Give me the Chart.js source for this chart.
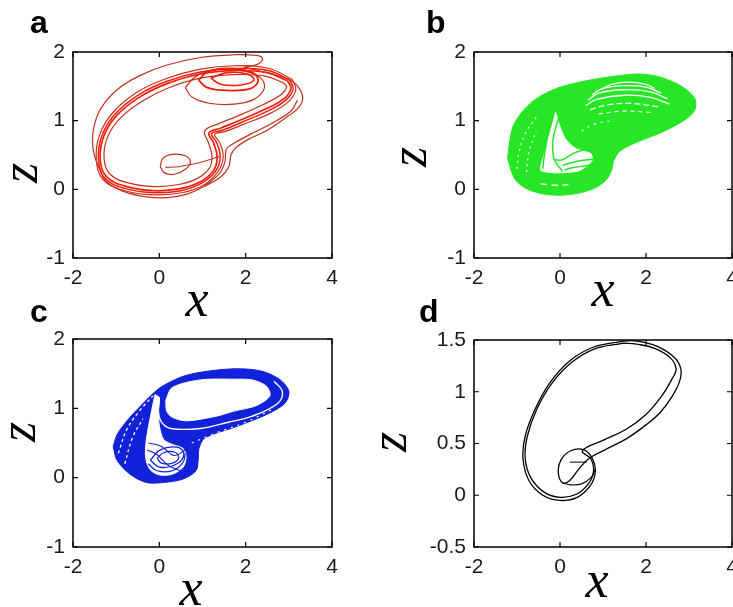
<!DOCTYPE html>
<html>
<head>
<meta charset="utf-8">
<script src="https://cdn.jsdelivr.net/npm/chart.js@4.4.1/dist/chart.umd.min.js"></script>
<style>
html,body{margin:0;padding:0;background:#fff;overflow:hidden;width:733px;height:607px;}
canvas{position:absolute;left:0;top:0;}
</style>
</head>
<body>
<canvas id="ca" width="733" height="607"></canvas>
<canvas id="cb" width="733" height="607"></canvas>
<canvas id="cc" width="733" height="607"></canvas>
<canvas id="cd" width="733" height="607"></canvas>
<script>
// ---------- axis ticks / labels ----------
const xTickValues = [-2, 0, 2, 4];
const xTickLabels = ['-2', '0', '2', '4'];
const zTickValuesABC = [-1, 0, 1, 2];
const zTickLabelsABC = ['-1', '0', '1', '2'];
const zTickValuesD = [-0.5, 0, 0.5, 1, 1.5];
const zTickLabelsD = ['-0.5', '0', '0.5', '1', '1.5'];
const panelLetters = ['a', 'b', 'c', 'd'];
const xTitle = 'x';
const zTitle = 'z';

// ---------- panel a (x, z) traced curves ----------
const aOuterLoop = [[1.96,1.78],[2.27,1.82],[2.39,1.90],[2.25,1.95],[1.73,1.96],[0.95,1.92],[0.18,1.81],[-0.44,1.66],[-0.98,1.45],[-1.37,1.16],[-1.53,0.86],[-1.53,0.57],[-1.41,0.33],[-1.22,0.11],[-0.83,-0.03],[-0.29,-0.11],[0.18,-0.12],[0.64,-0.07],[1.03,0.04],[1.42,0.18],[1.61,0.33],[1.66,0.50],[1.76,0.60],[2.04,0.72],[2.50,0.86],[2.97,1.06],[3.24,1.20],[3.32,1.35],[3.18,1.52],[2.97,1.61],[2.66,1.67],[2.35,1.72],[1.96,1.78]];
const aBand1 = [[3.08,1.60],[2.55,1.76],[1.73,1.80],[0.95,1.75],[0.15,1.61],[-0.50,1.42],[-1.06,1.13],[-1.38,0.80],[-1.46,0.43],[-1.30,0.14],[-0.80,-0.02],[-0.13,-0.08],[0.52,-0.05],[1.02,0.06],[1.36,0.26],[1.48,0.47],[1.40,0.68],[1.28,0.80],[1.52,0.84],[1.96,0.95],[2.58,1.11],[2.98,1.27],[3.16,1.45],[3.08,1.60]];
const aBand2 = [[2.97,1.58],[2.50,1.70],[1.73,1.73],[0.95,1.68],[0.18,1.54],[-0.44,1.35],[-0.98,1.08],[-1.29,0.77],[-1.37,0.43],[-1.22,0.18],[-0.75,0.04],[-0.13,-0.02],[0.49,0.01],[0.95,0.11],[1.26,0.28],[1.34,0.47],[1.26,0.67],[1.15,0.82],[1.42,0.89],[1.88,1.01],[2.50,1.18],[2.89,1.32],[3.05,1.47],[2.97,1.58]];
const aBand3 = [[2.88,1.55],[2.45,1.65],[1.73,1.67],[0.95,1.62],[0.22,1.48],[-0.38,1.29],[-0.90,1.04],[-1.20,0.76],[-1.28,0.45],[-1.14,0.22],[-0.70,0.09],[-0.13,0.04],[0.45,0.07],[0.88,0.16],[1.16,0.31],[1.22,0.48],[1.15,0.66],[1.05,0.85],[1.35,0.95],[1.82,1.07],[2.42,1.24],[2.80,1.37],[2.95,1.49],[2.88,1.55]];
const aBand4 = [[3.02,1.59],[2.52,1.73],[1.73,1.76],[0.95,1.71],[0.16,1.57],[-0.47,1.38],[-1.02,1.10],[-1.33,0.78],[-1.41,0.43],[-1.26,0.16],[-0.78,0.01],[-0.13,-0.05],[0.50,-0.02],[0.98,0.09],[1.31,0.27],[1.41,0.47],[1.33,0.68],[1.21,0.81],[1.47,0.86],[1.92,0.98],[2.54,1.15],[2.93,1.30],[3.10,1.46],[3.02,1.59]];
const aKnotLine = [[1.05,0.05],[1.38,0.22],[1.52,0.40],[1.55,0.58],[1.70,0.66],[2.10,0.80],[2.60,0.96],[3.05,1.14],[3.20,1.30]];
const aSpiral1 = [[0.60,1.48],[0.76,1.34],[1.19,1.25],[1.73,1.24],[2.19,1.31],[2.43,1.47],[2.35,1.62],[2.04,1.71],[1.42,1.75],[0.88,1.66],[0.60,1.48]];
const aSpiral2 = [[0.91,1.59],[1.11,1.48],[1.57,1.44],[2.12,1.47],[2.29,1.59],[2.12,1.71],[1.57,1.76],[1.11,1.71],[0.91,1.59]];
const aSpiral3 = [[1.19,1.62],[1.42,1.53],[1.88,1.52],[2.19,1.59],[2.04,1.68],[1.57,1.70],[1.19,1.62]];
const aSmallLoop = [[0.02,0.33],[0.12,0.24],[0.35,0.22],[0.62,0.30],[0.72,0.40],[0.60,0.49],[0.30,0.51],[0.08,0.45],[0.02,0.33]];
const aSmallTail = [[0.14,0.32],[0.45,0.33],[0.80,0.37],[1.10,0.42],[1.38,0.48]];

// ---------- panel b ----------
const bBlobOutline = [[-1.22,0.45],[-1.18,0.65],[-1.09,0.92],[-0.85,1.15],[-0.55,1.32],[-0.08,1.47],[0.60,1.58],[1.30,1.65],[1.85,1.68],[2.30,1.64],[2.71,1.54],[3.00,1.42],[3.15,1.30],[3.13,1.15],[2.90,1.01],[2.40,0.84],[1.80,0.69],[1.40,0.56],[1.25,0.42],[1.20,0.28],[1.08,0.14],[0.78,0.01],[0.30,-0.07],[-0.25,-0.08],[-0.75,0.00],[-1.05,0.15],[-1.22,0.45]];
const bTopGap1 = [[0.95,1.45],[1.20,1.53],[1.60,1.56],[2.00,1.53],[2.20,1.47]];
const bTopGap2 = [[0.75,1.38],[1.00,1.47],[1.50,1.51],[2.00,1.49],[2.35,1.40]];
const bTopGap3 = [[0.65,1.30],[0.90,1.40],[1.50,1.45],[2.10,1.42],[2.50,1.32]];
const bTopGap4 = [[0.60,1.22],[0.85,1.31],[1.50,1.37],[2.10,1.34],[2.55,1.24]];
const bTopGap5 = [[0.70,1.16],[1.10,1.23],[1.70,1.25],[2.30,1.20]];
const bTopGap6 = [[0.90,1.10],[1.50,1.14],[2.10,1.12]];
const bWedge = [[-0.10,1.12],[-0.22,0.85],[-0.35,0.55],[-0.45,0.28],[-0.10,0.24],[0.45,0.27],[0.75,0.42],[0.72,0.52],[0.35,0.60],[0.12,0.74],[-0.02,0.95],[-0.10,1.12]];
const bWedgeLine1 = [[-0.02,1.06],[-0.12,0.85],[-0.17,0.67],[-0.13,0.43],[0.06,0.26]];
const bWedgeLine2 = [[-0.29,0.81],[-0.33,0.62],[-0.37,0.47],[-0.40,0.30]];
const bWedgeLine3 = [[-0.13,0.43],[0.06,0.43],[0.30,0.52],[0.68,0.60]];
const bWedgeLine4 = [[0.06,0.35],[0.22,0.38],[0.50,0.42],[0.84,0.44]];
const bWedgeLine5 = [[0.10,0.28],[0.26,0.31],[0.55,0.34],[0.84,0.36]];
const bLeftGap1 = [[-1.00,0.30],[-0.95,0.55],[-0.80,0.82],[-0.55,1.05]];
const bLeftGap2 = [[-0.78,0.25],[-0.72,0.55],[-0.55,0.85]];
const bBottomGap = [[-0.45,0.08],[-0.10,0.06],[0.25,0.07]];
const bMidGap = [[0.50,0.85],[0.80,0.95],[1.20,1.00]];

// ---------- panel c ----------
const cBandOutline = [[-1.07,0.45],[-0.98,0.62],[-0.75,0.82],[-0.44,1.03],[0.00,1.29],[0.50,1.45],[0.95,1.52],[1.73,1.57],[2.35,1.54],[2.78,1.42],[3.00,1.25],[2.92,1.08],[2.55,0.93],[1.80,0.74],[1.05,0.57],[0.92,0.42],[0.90,0.25],[0.85,0.10],[0.55,-0.02],[0.10,-0.07],[-0.30,-0.07],[-0.68,0.05],[-0.98,0.25],[-1.07,0.45]];
const cHole = [[0.15,1.12],[0.30,1.30],[0.95,1.41],[1.73,1.42],[2.15,1.41],[2.48,1.32],[2.56,1.18],[2.25,1.04],[1.73,0.96],[1.34,0.89],[0.64,0.82],[0.30,0.87],[0.17,0.96],[0.15,1.12]];
const cRingGap = [[-0.02,1.17],[-0.02,0.95],[0.05,0.80],[0.26,0.71],[0.95,0.71],[1.60,0.80],[2.12,0.88],[2.74,1.07],[2.85,1.24],[2.66,1.39]];
const cGapV = [[-0.10,1.20],[-0.20,0.90],[-0.30,0.55],[-0.32,0.30],[-0.22,0.12],[0.00,0.04],[0.30,0.05],[0.55,0.15],[0.62,0.30],[0.55,0.42],[0.30,0.48],[0.10,0.55],[0.00,0.75],[-0.02,0.95],[0.00,1.15],[-0.10,1.20]];
const cSpiral1 = [[-0.21,0.25],[0.02,0.40],[0.41,0.44],[0.57,0.35],[0.41,0.20],[0.02,0.15],[-0.21,0.25]];
const cSpiral2 = [[-0.05,0.28],[0.10,0.36],[0.35,0.37],[0.45,0.29],[0.30,0.21],[0.05,0.21],[-0.05,0.28]];
const cSpiral3 = [[-0.26,0.20],[-0.05,0.10],[0.30,0.10],[0.55,0.22],[0.60,0.35]];
const cSpiralLink = [[-0.25,0.50],[0.05,0.45],[0.35,0.32],[0.60,0.40]];
const cSpiralLink2 = [[-0.28,0.40],[-0.05,0.33],[0.20,0.18],[0.50,0.10]];
const cLeftStripe1 = [[-0.95,0.35],[-0.75,0.70],[-0.45,0.97],[-0.15,1.18]];
const cLeftStripe2 = [[-0.80,0.20],[-0.62,0.58],[-0.38,0.85]];
const cLowerStripe = [[0.75,0.50],[1.30,0.64],[2.00,0.80],[2.60,0.98]];

// ---------- panel d ----------
const dStrandA = [[1.47,1.49],[0.77,1.43],[0.23,1.30],[-0.23,1.09],[-0.58,0.83],[-0.81,0.57],[-0.86,0.35],[-0.72,0.14],[-0.40,0.00],[0.00,-0.05],[0.40,-0.02],[0.70,0.09],[0.82,0.22],[0.76,0.35],[0.55,0.44],[0.25,0.43],[0.02,0.34],[-0.04,0.22],[0.06,0.12],[0.22,0.14],[0.45,0.26],[0.69,0.36],[1.10,0.45],[1.56,0.55],[2.00,0.68],[2.33,0.80],[2.60,0.95],[2.78,1.10],[2.81,1.22],[2.66,1.33],[2.25,1.44],[1.78,1.49],[1.47,1.49]];
const dStrandB = [[1.47,1.47],[0.78,1.41],[0.26,1.28],[-0.19,1.08],[-0.54,0.83],[-0.76,0.57],[-0.81,0.36],[-0.68,0.17],[-0.37,0.03],[0.00,-0.02],[0.38,0.01],[0.66,0.11],[0.78,0.23],[0.72,0.35],[0.52,0.43],[1.00,0.53],[1.55,0.64],[2.00,0.78],[2.35,0.95],[2.60,1.12],[2.70,1.22],[2.56,1.33],[2.20,1.42],[1.78,1.46],[1.47,1.47]];
const dCircleBottom = [[0.06,0.12],[0.25,0.10],[0.50,0.11],[0.72,0.17],[0.82,0.25]];
const dDash = [[0.23,0.32],[0.62,0.32]];

// ---------- helpers ----------
const toXY = pts => pts.map(p => ({x: p[0], y: p[1]}));
function lineDS(pts, color, width, extra) {
  return Object.assign({data: toXY(pts), borderColor: color, borderWidth: width, pointRadius: 0,
    fill: false, tension: 0.4}, extra || {});
}
function shapeDS(pts, color, tension) {
  return {data: toXY(pts), borderColor: color, backgroundColor: color, borderWidth: 1, pointRadius: 0,
    fill: 'shape', tension: tension === undefined ? 0.3 : tension};
}

const RED = '#c4301e', RED2 = '#f21e0a', GREEN = '#26e626', BLUE = '#1222d8', WHITE = '#ffffff', BLACK = '#000000';

const decorPlugin = {
  id: 'decor',
  afterDraw(chart, args, o) {
    const ctx = chart.ctx, a = chart.chartArea;
    const xs = chart.scales.x, ys = chart.scales.y;
    ctx.save();
    ctx.strokeStyle = '#000';
    ctx.lineWidth = 1.5;
    ctx.strokeRect(a.left, a.top, a.right - a.left, a.bottom - a.top);
    ctx.lineWidth = 1.2;
    ctx.beginPath();
    xTickValues.forEach(v => {
      const p = xs.getPixelForValue(v);
      ctx.moveTo(p, a.bottom); ctx.lineTo(p, a.bottom - 5);
      ctx.moveTo(p, a.top); ctx.lineTo(p, a.top + 5);
    });
    o.zVals.forEach(v => {
      const p = ys.getPixelForValue(v);
      ctx.moveTo(a.left, p); ctx.lineTo(a.left + 5, p);
      ctx.moveTo(a.right, p); ctx.lineTo(a.right - 5, p);
    });
    ctx.stroke();
    ctx.fillStyle = '#000';
    ctx.font = 'bold 32px "Liberation Sans", Arial, sans-serif';
    ctx.textAlign = 'left';
    ctx.textBaseline = 'alphabetic';
    ctx.fillText(o.letter, o.letterPos[0], o.letterPos[1]);
    ctx.font = 'italic 52px "Liberation Serif", "Times New Roman", serif';
    ctx.textAlign = 'center';
    ctx.fillText(xTitle, o.xPos[0], o.xPos[1]);
    ctx.translate(o.zPos[0], o.zPos[1]);
    ctx.rotate(-Math.PI / 2);
    ctx.fillText(zTitle, 0, 0);
    ctx.restore();
  }
};

const X_AXIS_H = 44;
function makeChart(p) {
  const n = p.datasets.length;
  p.datasets.forEach((d, i) => { d.order = n - i; });
  const tickFont = {family: '"Liberation Sans", Arial, sans-serif', size: 21};
  new Chart(document.getElementById(p.id), {
    type: 'line',
    data: {datasets: p.datasets},
    options: {
      responsive: false,
      animation: false,
      events: [],
      layout: {padding: {left: 0, top: p.pad.top, right: p.pad.right, bottom: p.pad.bottom - X_AXIS_H}, autoPadding: false},
      plugins: {legend: {display: false}, tooltip: {enabled: false},
        decor: {zVals: p.zVals, letter: p.letter, letterPos: p.letterPos, xPos: p.xPos, zPos: p.zPos}},
      scales: {
        x: {type: 'linear', min: -2, max: 4,
          afterBuildTicks: s => { s.ticks = xTickValues.map(v => ({value: v})); },
          afterFit: s => { s.height = X_AXIS_H; s.paddingLeft = 0; s.paddingRight = 0; },
          grid: {display: false, drawTicks: false}, border: {display: false},
          ticks: {autoSkip: false, maxRotation: 0, minRotation: 0, padding: 8, color: '#1a1a1a', font: tickFont,
            callback: v => xTickLabels[xTickValues.indexOf(v)]}},
        y: {type: 'linear', min: p.zMin, max: p.zMax,
          afterBuildTicks: s => { s.ticks = p.zVals.map(v => ({value: v})); },
          afterFit: s => { s.width = p.pad.left; s.paddingTop = 0; s.paddingBottom = 0; },
          grid: {display: false, drawTicks: false}, border: {display: false},
          ticks: {autoSkip: false, padding: 8, color: '#1a1a1a', font: tickFont,
            callback: v => p.zLabs[p.zVals.indexOf(v)]}}
      }
    },
    plugins: [decorPlugin]
  });
}

makeChart({
  id: 'ca', pad: {left: 73, top: 52, right: 401, bottom: 349},
  zVals: zTickValuesABC, zLabs: zTickLabelsABC, zMin: -1, zMax: 2,
  letter: panelLetters[0], letterPos: [30, 33], xPos: [197, 316], zPos: [37, 173],
  datasets: [
    lineDS(aOuterLoop, RED, 1.2),
    lineDS(aBand1, RED, 1.2),
    lineDS(aBand4, RED2, 1.5),
    lineDS(aBand2, RED2, 1.7),
    lineDS(aBand3, RED, 1.2),
    lineDS(aKnotLine, RED, 1.2),
    lineDS(aSpiral1, RED, 1.2),
    lineDS(aSpiral2, RED2, 1.8),
    lineDS(aSpiral3, RED2, 1.6),
    lineDS(aSmallLoop, RED, 1.2),
    lineDS(aSmallTail, RED, 1.1)
  ]
});

makeChart({
  id: 'cb', pad: {left: 474, top: 52, right: 1, bottom: 349},
  zVals: zTickValuesABC, zLabs: zTickLabelsABC, zMin: -1, zMax: 2,
  letter: panelLetters[1], letterPos: [426, 33], xPos: [603, 306], zPos: [426, 157],
  datasets: [
    shapeDS(bBlobOutline, GREEN),
    lineDS(bTopGap1, WHITE, 1.3),
    lineDS(bTopGap2, WHITE, 1.3),
    lineDS(bTopGap3, WHITE, 1.3),
    lineDS(bTopGap4, WHITE, 1.3),
    lineDS(bTopGap5, WHITE, 1.2, {borderDash: [6, 3]}),
    lineDS(bTopGap6, WHITE, 1.2, {borderDash: [4, 4]}),
    shapeDS(bWedge, WHITE, 0.2),
    lineDS(bWedgeLine1, GREEN, 1.5),
    lineDS(bWedgeLine2, GREEN, 1.5),
    lineDS(bWedgeLine3, GREEN, 1.5),
    lineDS(bWedgeLine4, GREEN, 1.5),
    lineDS(bWedgeLine5, GREEN, 1.5),
    lineDS(bLeftGap1, WHITE, 1.2, {borderDash: [2, 4]}),
    lineDS(bLeftGap2, WHITE, 1.2, {borderDash: [2, 4]}),
    lineDS(bBottomGap, WHITE, 1.4, {borderDash: [6, 5]}),
    lineDS(bMidGap, WHITE, 1.2, {borderDash: [2, 5]})
  ]
});

makeChart({
  id: 'cc', pad: {left: 73, top: 339, right: 401, bottom: 60},
  zVals: zTickValuesABC, zLabs: zTickLabelsABC, zMin: -1, zMax: 2,
  letter: panelLetters[2], letterPos: [30, 322], xPos: [191, 605], zPos: [35, 432],
  datasets: [
    shapeDS(cBandOutline, BLUE),
    shapeDS(cHole, WHITE),
    lineDS(cRingGap, WHITE, 1.4),
    shapeDS(cGapV, WHITE, 0.3),
    lineDS(cSpiral1, BLUE, 1.3),
    lineDS(cSpiral2, BLUE, 1.2),
    lineDS(cSpiral3, BLUE, 1.2),
    lineDS(cSpiralLink, BLUE, 1.1),
    lineDS(cSpiralLink2, BLUE, 1.1),
    lineDS(cLeftStripe1, WHITE, 1.3, {borderDash: [3, 3]}),
    lineDS(cLeftStripe2, WHITE, 1.3, {borderDash: [3, 3]}),
    lineDS(cLowerStripe, WHITE, 1.2, {borderDash: [2, 5]})
  ]
});

makeChart({
  id: 'cd', pad: {left: 474, top: 340, right: 1, bottom: 60},
  zVals: zTickValuesD, zLabs: zTickLabelsD, zMin: -0.5, zMax: 1.5,
  letter: panelLetters[3], letterPos: [419, 322], xPos: [597, 597], zPos: [406, 442],
  datasets: [
    lineDS(dStrandA, BLACK, 1.3),
    lineDS(dStrandB, BLACK, 1.3),
    lineDS(dCircleBottom, BLACK, 1.2),
    lineDS(dDash, BLACK, 1.0, {tension: 0})
  ]
});
</script>
</body>
</html>
